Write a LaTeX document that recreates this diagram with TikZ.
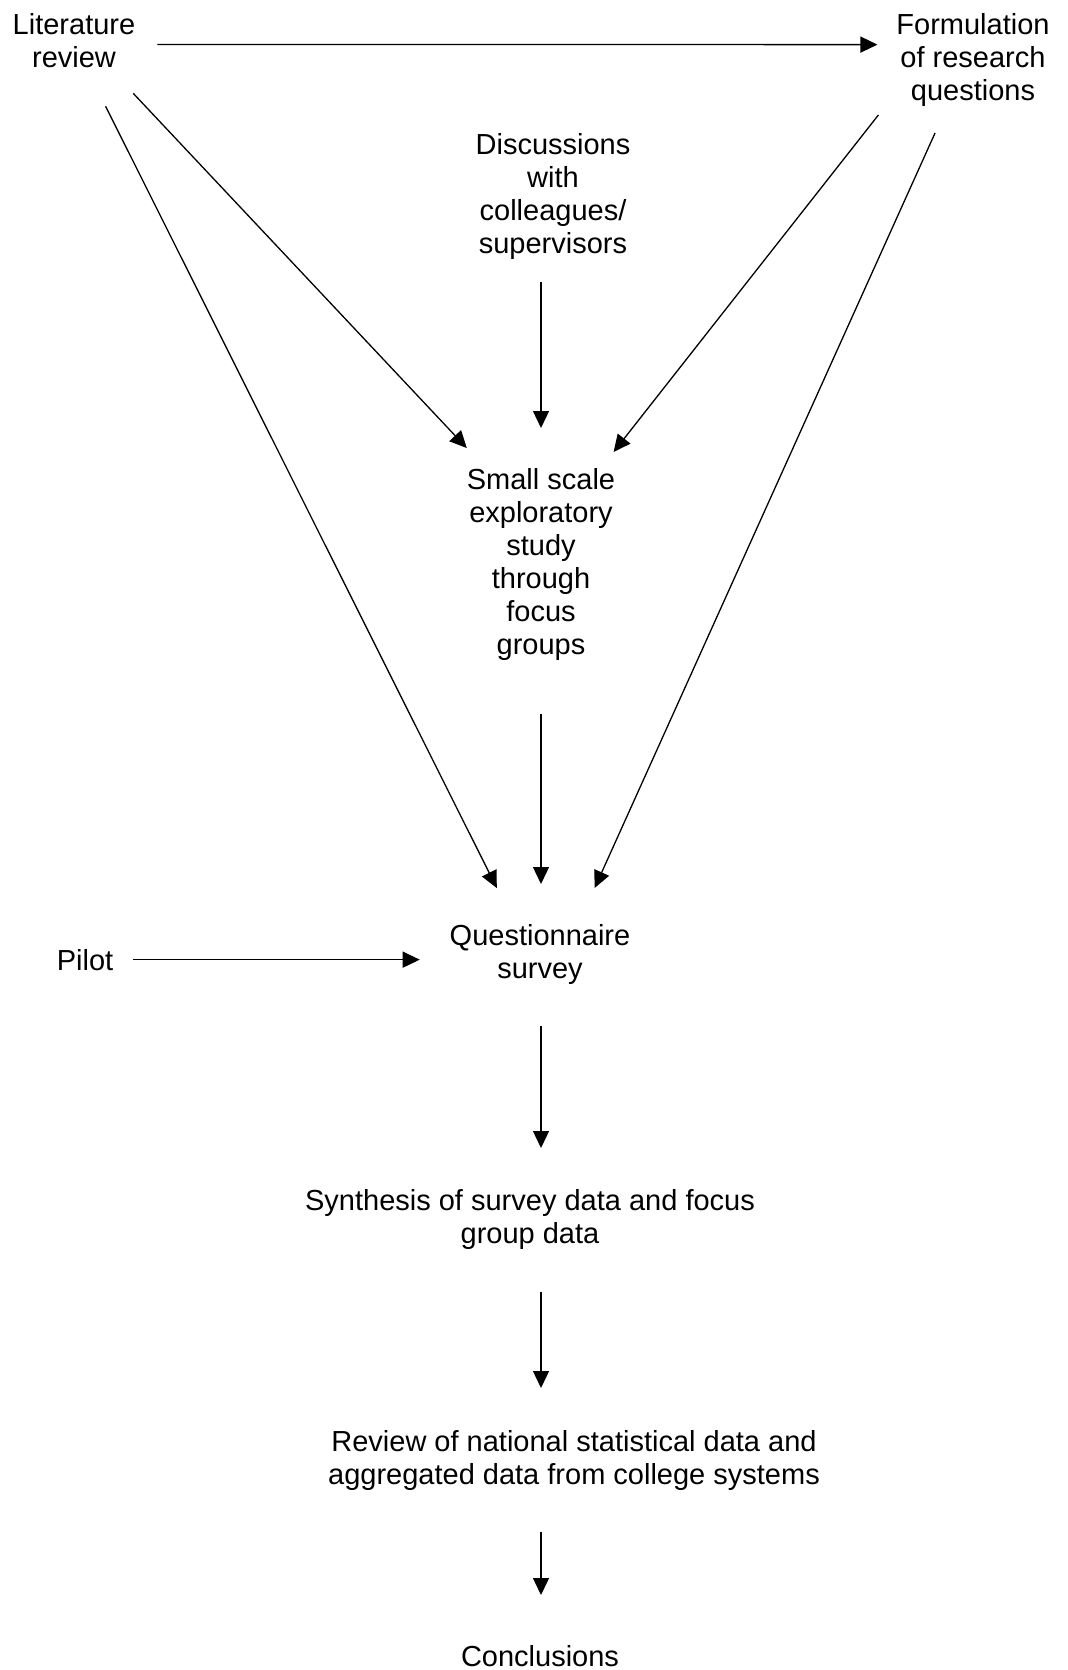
\documentclass[tikz,border=0pt]{standalone}
\usepackage{fontspec}
\setmainfont{Liberation Sans}
\usepackage{tikz}
\usetikzlibrary{arrows.meta, positioning, calc}

\begin{document}
\begin{tikzpicture}[x=0.5pt, y=-0.5pt,
    box/.style={anchor=north, align=center, inner sep=0pt, outer sep=0pt,
      font=\fontsize{14.5}{16.5}\selectfont},
    flow/.style={-{Triangle[length=8.5pt,width=8pt]}, line width=0.65pt}]
  \useasboundingbox (0,0) rectangle (1067,1670);

  \node[box] (lit) at (74,13) {Literature\\review};
  \node[box] (form) at (973,13) {Formulation\\of research\\questions};
  \node[box] (disc) at (553,133) {Discussions\\with\\colleagues/\\supervisors};
  \node[box] (small) at (541,468) {Small scale\\exploratory\\study\\through\\focus\\groups};
  \node[box] (quest) at (540,924) {Questionnaire\\survey};
  \node[box] (pilot) at (85,949) {Pilot};
  \node[box] (synth) at (530,1189) {Synthesis of survey data and focus\\group data};
  \node[box] (review) at (574,1430) {Review of national statistical data and\\aggregated data from college systems};
  \node[box] (concl) at (540,1645) {Conclusions};

  \draw[flow, shorten <=11pt, shorten >=9.5pt] (lit.-4.7) -- (form.169.3);
  \draw[flow, shorten <=17.9pt, shorten >=13.7pt] (lit.-38) -- (small.120);
  \draw[flow, shorten <=21.8pt, shorten >=20.1pt] (lit.-66.9) -- (quest.130.9);
  \draw[flow, shorten <=14.6pt, shorten >=10.2pt] (form.-157.1) -- (small.58.3);
  \draw[flow, shorten <=14.8pt, shorten >=19.8pt] (form.-119) -- (quest.38.5);
  \draw[flow, shorten <=11.5pt, shorten >=20pt] (disc.south -| small) -- (small.north);
  \draw[flow, shorten <=27pt, shorten >=20pt] (small.south) -- (small.south |- quest.north);
  \draw[flow, shorten <=10pt, shorten >=15pt] (pilot.east) -- (pilot.east -| quest.west);
  \draw[flow, shorten <=21pt, shorten >=20.5pt] (quest.south -| small) -- (synth.north -| small);
  \draw[flow, shorten <=21.5pt, shorten >=21pt] (synth.south -| small) -- (review.north -| small);
  \draw[flow, shorten <=21pt, shorten >=25pt] (review.south -| small) -- (concl.north -| small);
\end{tikzpicture}
\end{document}
